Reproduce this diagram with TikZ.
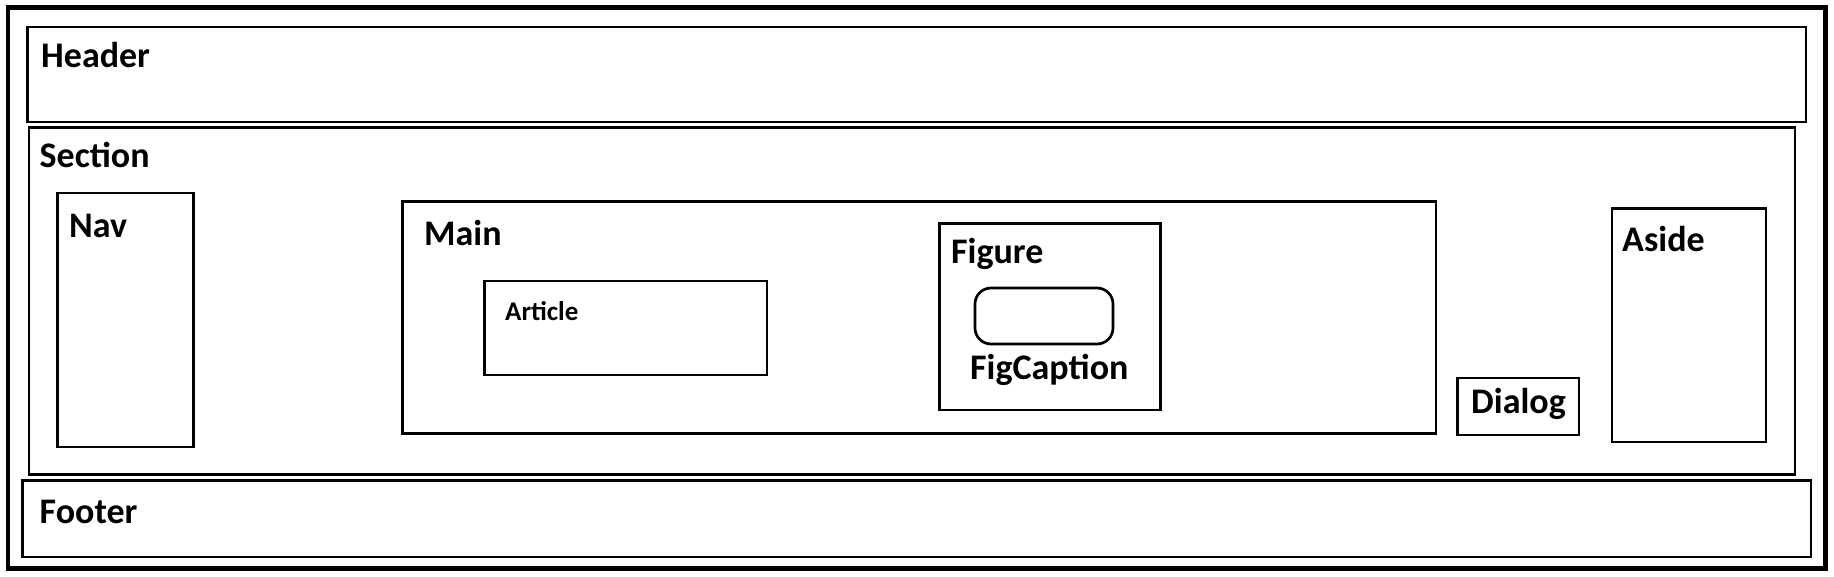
\documentclass[tikz,border=0pt]{standalone}
\usepackage{fontspec}
\setmainfont{Carlito}
\usepackage{tikz}

\tikzset{
  box/.style={draw=black,line width=2.7pt},
  lbl/.style={inner sep=0pt,anchor=base west,font=\bfseries\fontsize{36}{36}\selectfont},
  smalllbl/.style={lbl,font=\bfseries\fontsize{27}{27}\selectfont}
}

\begin{document}
\begin{tikzpicture}[x=1pt,y=-1pt]
    \useasboundingbox (0,0) rectangle (1834,576);
    % page frame
    \draw[line width=4.8pt] (8,7.5) rectangle (1825.5,568.5);
    \draw[box] (27.5,27) rectangle (1806,122);
    \draw[box] (29,127.5) rectangle (1795,474.5);
    \draw[box] (22.5,480.5) rectangle (1811,557);
    % inside section
    \draw[box] (57.3,193) rectangle (193.5,447);
    \draw[box] (402.5,201.5) rectangle (1436,433.5);
    \draw[box] (484.3,281) rectangle (767,375);
    \draw[box] (939.5,223.5) rectangle (1160.5,410);
    \draw[box,rounded corners=16pt] (975,288) rectangle (1113,344);
    \draw[box] (1457.5,378) rectangle (1579,435);
    \draw[box] (1612,208.5) rectangle (1766,442);
    % labels
    \node[lbl] (header) at (41,67) {Header};
    \node[lbl] (section) at (39.5,167) {Section};
    \node[lbl] (nav) at (69,237) {Nav};
    \node[lbl] (main) at (424,245) {Main};
    \node[lbl] (footer) at (39.5,523) {Footer};
    \node[smalllbl] (article) at (505,320) {Article};
    \node[lbl] (figure) at (951,263) {Figure};
    \node[lbl] (figcaption) at (970,379) {FigCaption};
    \node[lbl] (dialog) at (1471,413) {Dialog};
    \node[lbl] (aside) at (1622,251) {Aside};
\end{tikzpicture}
\end{document}
